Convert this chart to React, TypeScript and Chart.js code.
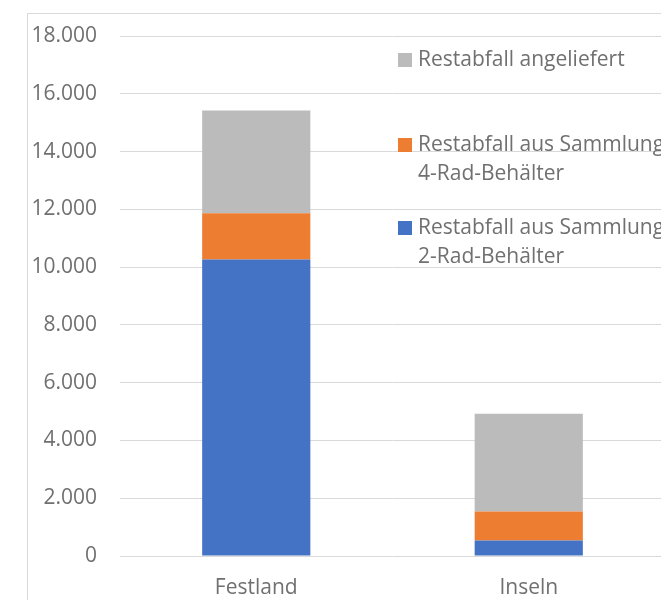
import React, { useEffect, useRef } from "react";
import { Chart, registerables } from "chart.js";

Chart.register(...registerables);

const categories = ["Festland", "Inseln"];
const series2Rad = [10260, 540];
const series4Rad = [1605, 1000];
const seriesAngeliefert = [3560, 3385];
const seriesLabels = [
  ["Restabfall aus Sammlung", "2-Rad-Behälter"],
  ["Restabfall aus Sammlung", "4-Rad-Behälter"],
  ["Restabfall angeliefert"],
];
const seriesColors = ["#4472C4", "#ED7D31", "#BBBBBB"];
const yMin = 0;
const yMax = 18000;
const yStep = 2000;

const TEXT_COLOR = "#707070";
const FONT = "'Open Sans', 'Noto Sans', sans-serif";

function fmt(v: number): string {
  return String(v).replace(/\B(?=(\d{3})+(?!\d))/g, ".");
}

const framePlugin = {
  id: "frame",
  beforeDraw(chart: any) {
    const ctx = chart.ctx;
    ctx.save();
    ctx.fillStyle = "#ffffff";
    ctx.fillRect(0, 0, chart.width, chart.height);
    ctx.strokeStyle = "#D9D9D9";
    ctx.lineWidth = 1;
    ctx.strokeRect(27.5, 13.5, chart.width + 100, chart.height + 100);
    ctx.restore();
  },
};

const legendPlugin = {
  id: "customLegend",
  afterDraw(chart: any) {
    const ctx = chart.ctx;
    const ds = chart.data.datasets;
    const order = [2, 1, 0];
    const centers = [60, 145, 228];
    const lineH = 29;
    ctx.save();
    ctx.font = `21px ${FONT}`;
    ctx.textBaseline = "middle";
    ctx.textAlign = "left";
    order.forEach((di: number, k: number) => {
      const cy = centers[k];
      ctx.fillStyle = ds[di].backgroundColor;
      ctx.fillRect(398, cy - 7, 14, 14);
      ctx.fillStyle = TEXT_COLOR;
      const lines: string[] = ds[di].labelLines;
      lines.forEach((t: string, li: number) => {
        ctx.fillText(t, 418, cy + li * lineH);
      });
    });
    ctx.restore();
  },
};

export default function App() {
  const ref = useRef<HTMLCanvasElement | null>(null);

  useEffect(() => {
    if (!ref.current) return;
    const values = [series2Rad, series4Rad, seriesAngeliefert];
    const chart = new Chart(ref.current, {
      type: "bar",
      data: {
        labels: categories,
        datasets: values.map((v, i) => ({
          label: seriesLabels[i].join(" "),
          labelLines: seriesLabels[i],
          data: v,
          backgroundColor: seriesColors[i],
          borderWidth: 0,
          categoryPercentage: 1,
          barPercentage: 0.397,
        })) as any,
      },
      options: {
        responsive: false,
        animation: false,
        devicePixelRatio: 1,
        layout: { padding: { left: 0, top: 36, right: 15, bottom: 0 } },
        plugins: {
          legend: { display: false },
          tooltip: { enabled: false },
        },
        scales: {
          x: {
            stacked: true,
            grid: { display: false },
            border: { display: false },
            ticks: {
              color: TEXT_COLOR,
              font: { family: FONT, size: 21 },
              padding: 11,
              maxRotation: 0,
            },
            afterFit: (s: any) => {
              s.height = 44;
            },
          },
          y: {
            stacked: true,
            min: yMin,
            max: yMax,
            grid: { color: "#D9D9D9", lineWidth: 1, drawTicks: false },
            border: { display: false },
            ticks: {
              stepSize: yStep,
              color: TEXT_COLOR,
              font: { family: FONT, size: 21 },
              padding: 23,
              callback: (v: any) => fmt(Number(v)),
            },
            afterFit: (s: any) => {
              s.width = 120;
            },
          },
        },
      },
      plugins: [framePlugin, legendPlugin],
    });
    return () => chart.destroy();
  }, []);

  return (
    <div
      style={{
        position: "fixed",
        left: 0,
        top: 0,
        width: 661,
        height: 600,
        overflow: "hidden",
        background: "#ffffff",
      }}
    >
      <canvas ref={ref} width={680} height={600} style={{ display: "block", width: 680, height: 600 }} />
    </div>
  );
}
